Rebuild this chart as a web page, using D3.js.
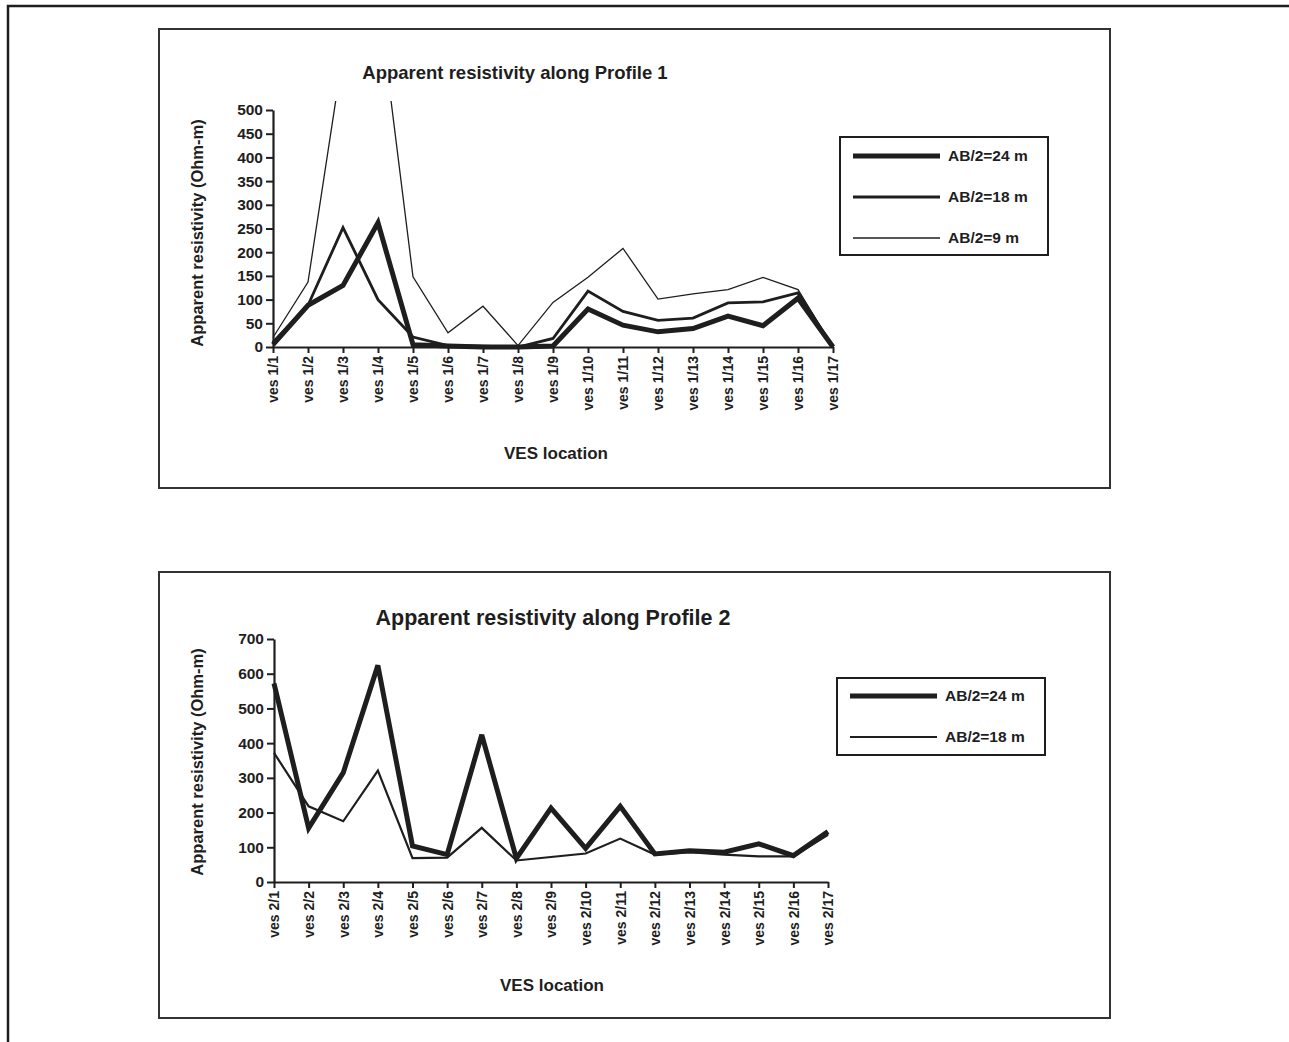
<!DOCTYPE html>
<html>
<head>
<meta charset="utf-8">
<script src="https://cdn.jsdelivr.net/npm/d3@7"></script>
<style>
  html, body { margin: 0; padding: 0; background: #fff; }
  svg { display: block; font-family: Arial, "Liberation Sans", sans-serif; }
</style>
</head>
<body>
<svg id="chart" width="1289" height="1042"></svg>
<script>
// ---------- Data ----------
const locations1 = ["ves 1/1","ves 1/2","ves 1/3","ves 1/4","ves 1/5","ves 1/6","ves 1/7","ves 1/8","ves 1/9",
  "ves 1/10","ves 1/11","ves 1/12","ves 1/13","ves 1/14","ves 1/15","ves 1/16","ves 1/17"];
const p1_ab24 = [5, 88, 130, 262, 5, 2, 0, 0, 2, 80, 46, 32, 39, 65, 45, 103, 0];
const p1_ab18 = [10, 88, 252, 100, 21, 3, 2, 0, 18, 118, 75, 56, 61, 93, 95, 114, 0];
const p1_ab9  = [20, 137, 620, 740, 148, 30, 86, 3, 94, 147, 208, 101, 112, 121, 147, 121, 0];
const yTicks1 = [0, 50, 100, 150, 200, 250, 300, 350, 400, 450, 500];

const locations2 = ["ves 2/1","ves 2/2","ves 2/3","ves 2/4","ves 2/5","ves 2/6","ves 2/7","ves 2/8","ves 2/9",
  "ves 2/10","ves 2/11","ves 2/12","ves 2/13","ves 2/14","ves 2/15","ves 2/16","ves 2/17"];
const p2_ab24 = [572, 155, 315, 624, 104, 79, 424, 68, 213, 97, 218, 81, 90, 86, 110, 76, 145];
const p2_ab18 = [372, 218, 175, 321, 69, 70, 156, 62, 72, 82, 125, 79, 86, 79, 74, 74, 136];
const yTicks2 = [0, 100, 200, 300, 400, 500, 600, 700];

const legend1 = ["AB/2=24 m", "AB/2=18 m", "AB/2=9 m"];
const legend2 = ["AB/2=24 m", "AB/2=18 m"];

// ---------- Drawing ----------
const svg = d3.select("#chart");
const ink = "#1e1e1e";

// outer frame (cropped on right and bottom)
svg.append("rect").attr("x", 8).attr("y", 6).attr("width", 1400).attr("height", 1200)
  .attr("fill", "none").attr("stroke", ink).attr("stroke-width", 2.5);

function drawChart(cfg) {
  const g = svg.append("g");
  g.append("rect").attr("x", cfg.frame[0]).attr("y", cfg.frame[1])
    .attr("width", cfg.frame[2]).attr("height", cfg.frame[3])
    .attr("fill", "#fff").attr("stroke", "#333").attr("stroke-width", 2);

  const x = d3.scalePoint().domain(cfg.categories).range([cfg.x0, cfg.x1]);
  const y = d3.scaleLinear().domain([0, cfg.yMax]).range([cfg.y0, cfg.y1]);

  g.append("text").attr("x", cfg.titleX).attr("y", cfg.titleY)
    .attr("text-anchor", "middle").attr("font-size", cfg.titleSize).attr("font-weight", "bold")
    .attr("fill", ink).text(cfg.title);

  const clipId = "clip" + cfg.id;
  g.append("clipPath").attr("id", clipId).append("rect")
    .attr("x", cfg.x0 - 10).attr("y", cfg.clipTop)
    .attr("width", cfg.x1 - cfg.x0 + 20).attr("height", cfg.y0 - cfg.clipTop + 10);

  const yAxis = g.append("g").attr("transform", `translate(${cfg.x0},0)`)
    .call(d3.axisLeft(y).tickValues(cfg.yTicks).tickSize(7).tickPadding(3).tickSizeOuter(0));
  yAxis.select(".domain").attr("stroke", ink).attr("stroke-width", 2.2);
  yAxis.selectAll(".tick line").attr("stroke", ink).attr("stroke-width", 2);
  yAxis.selectAll(".tick text").attr("font-size", 15.5).attr("font-weight", "bold")
    .attr("fill", ink).attr("font-family", "Arial, 'Liberation Sans', sans-serif");

  const xAxis = g.append("g").attr("transform", `translate(0,${cfg.y0})`)
    .call(d3.axisBottom(x).tickSize(6).tickSizeOuter(0));
  xAxis.select(".domain").attr("stroke", ink).attr("stroke-width", 2.2);
  xAxis.selectAll(".tick line").attr("stroke", ink).attr("stroke-width", 2);
  xAxis.selectAll(".tick text")
    .attr("font-size", 14).attr("font-weight", "bold").attr("fill", ink)
    .attr("font-family", "Arial, 'Liberation Sans', sans-serif")
    .attr("text-anchor", "end")
    .attr("transform", "rotate(-90)")
    .attr("x", -9).attr("y", 0).attr("dy", "0.35em");

  g.append("text")
    .attr("transform", `translate(${cfg.yTitleX},${cfg.yTitleY}) rotate(-90)`)
    .attr("text-anchor", "middle").attr("font-size", 16.5).attr("font-weight", "bold")
    .attr("fill", ink).text("Apparent resistivity (Ohm-m)");
  g.append("text").attr("x", cfg.xTitleX).attr("y", cfg.xTitleY)
    .attr("text-anchor", "middle").attr("font-size", 17).attr("font-weight", "bold")
    .attr("fill", ink).text("VES location");

  const line = d3.line().x((d, i) => x(cfg.categories[i])).y(d => y(d));
  const plot = g.append("g").attr("clip-path", `url(#${clipId})`);
  cfg.series.slice().reverse().forEach(s => {
    plot.append("path").datum(s.values)
      .attr("d", line).attr("fill", "none")
      .attr("stroke", ink).attr("stroke-width", s.width)
      .attr("stroke-linejoin", "miter").attr("stroke-miterlimit", 3);
  });

  const L = cfg.legend;
  g.append("rect").attr("x", L.x).attr("y", L.y).attr("width", L.w).attr("height", L.h)
    .attr("fill", "#fff").attr("stroke", ink).attr("stroke-width", 2);
  cfg.series.forEach((s, i) => {
    const ly = L.firstY + i * L.step;
    g.append("line").attr("x1", L.x + 13).attr("x2", L.x + 100)
      .attr("y1", ly).attr("y2", ly).attr("stroke", ink).attr("stroke-width", s.width);
    g.append("text").attr("x", L.x + 108).attr("y", ly).attr("dy", "0.35em")
      .attr("font-size", 15.5).attr("font-weight", "bold").attr("fill", ink).text(s.name);
  });
}

drawChart({
  id: 1,
  frame: [159, 29, 951, 459],
  categories: locations1,
  x0: 273, x1: 833, y0: 347, y1: 110, yMax: 500, clipTop: 101,
  yTicks: yTicks1,
  title: "Apparent resistivity along Profile 1", titleX: 515, titleY: 79, titleSize: 18.5,
  yTitleX: 203, yTitleY: 233, xTitleX: 556, xTitleY: 459,
  series: [
    { name: legend1[0], values: p1_ab24, width: 5 },
    { name: legend1[1], values: p1_ab18, width: 2.8 },
    { name: legend1[2], values: p1_ab9, width: 1.3 }
  ],
  legend: { x: 840, y: 137, w: 208, h: 118, firstY: 156, step: 41 }
});

drawChart({
  id: 2,
  frame: [159, 572, 951, 446],
  categories: locations2,
  x0: 274, x1: 828, y0: 882, y1: 639, yMax: 700, clipTop: 630,
  yTicks: yTicks2,
  title: "Apparent resistivity along Profile 2", titleX: 553, titleY: 625, titleSize: 21.5,
  yTitleX: 203, yTitleY: 762, xTitleX: 552, xTitleY: 991,
  series: [
    { name: legend2[0], values: p2_ab24, width: 5 },
    { name: legend2[1], values: p2_ab18, width: 2.2 }
  ],
  legend: { x: 837, y: 678, w: 208, h: 77, firstY: 696, step: 41 }
});
</script>
</body>
</html>
